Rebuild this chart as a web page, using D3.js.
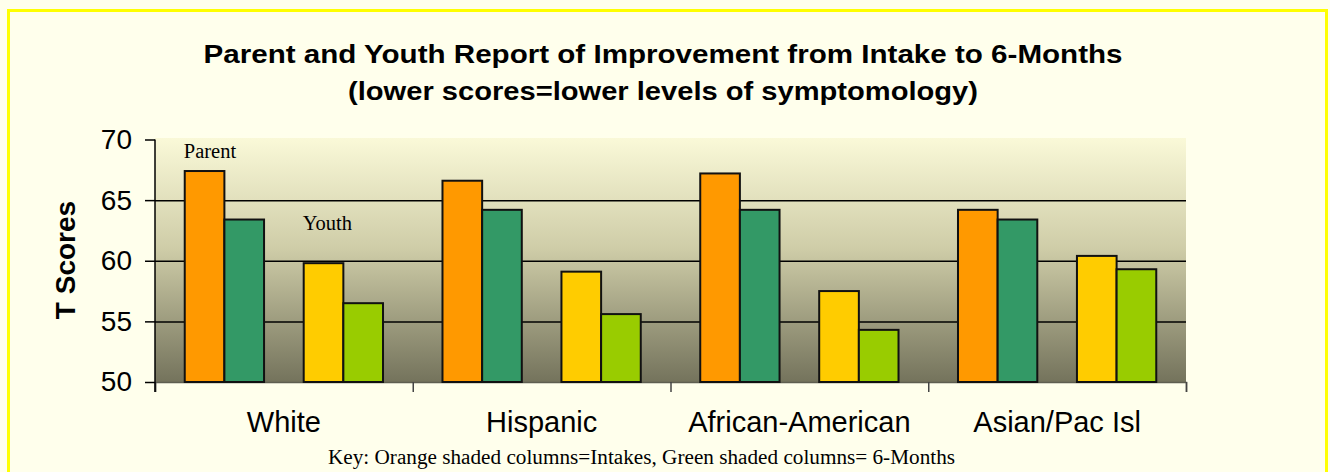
<!DOCTYPE html>
<html>
<head>
<meta charset="utf-8">
<script src="https://cdn.jsdelivr.net/npm/d3@7"></script>
<style>
  body { margin: 0; background: #FFFFEC; }
  svg { display: block; }
</style>
</head>
<body>
<svg width="1330" height="472"></svg>
<script>
// chart values
const categories = ["White", "Hispanic", "African-American", "Asian/Pac Isl"]
const seriesKeys = ["parentIntake", "parent6mo", "gap", "youthIntake", "youth6mo"]
const parentIntake = [67.4, 66.6, 67.2, 64.2]
const parent6mo = [63.4, 64.2, 64.2, 63.4]
const youthIntake = [59.8, 59.1, 57.5, 60.4]
const youth6mo = [56.5, 55.6, 54.3, 59.3]
const yTicks = [50, 55, 60, 65, 70]
const gridTicks = [55, 60, 65]
const titleLines = ["Parent and Youth Report of Improvement from Intake to 6-Months",
                    "(lower scores=lower levels of symptomology)"]
const keyText = "Key: Orange shaded columns=Intakes, Green shaded columns= 6-Months"
// annotation labels: text, category, series slot, value height
const notes = [
    { text: "Parent", cat: "White", key: "parentIntake", v: 68.5 },
    { text: "Youth", cat: "White", key: "youthIntake", v: 62.5 }
]

const colors = {
    parentIntake: "#FF9900",
    parent6mo: "#339966",
    youthIntake: "#FFCC00",
    youth6mo: "#99CC00"
}

const margin = { top: 139.5, left: 155, right: 144, bottom: 90 }
const width = 1330 - margin.left - margin.right
const height = 472 - margin.top - margin.bottom

const svg = d3.select("svg")

// outer frame
svg.append("rect")
    .attr("x", 8.5).attr("y", 10.5)
    .attr("width", 1318).attr("height", 480)
    .attr("fill", "#FFFFEC")
    .attr("stroke", "#FFFF00")
    .attr("stroke-width", 3)

const defs = svg.append("defs")
const grad = defs.append("linearGradient")
    .attr("id", "plotbg")
    .attr("x1", 0).attr("y1", 0).attr("x2", 0).attr("y2", 1)
grad.append("stop").attr("offset", "0%").attr("stop-color", "#FAF9D8")
grad.append("stop").attr("offset", "45%").attr("stop-color", "#CFCDA8")
grad.append("stop").attr("offset", "100%").attr("stop-color", "#74735C")

const g = svg.append("g")
    .attr("transform", "translate(" + margin.left + "," + margin.top + ")")

let y = d3.scaleLinear().domain([50, 70]).range([height, 0])
let x0 = d3.scaleBand().domain(categories).range([0, width]).padding(0)
let x1 = d3.scaleBand().domain(seriesKeys).range([0, x0.bandwidth()])
    .paddingInner(0).paddingOuter(0.75)
let xEdges = d3.scaleLinear().domain([0, categories.length]).range([0, width])

g.append("rect")
    .attr("x", 0).attr("y", -1.5)
    .attr("width", width).attr("height", height + 1.5)
    .attr("fill", "url(#plotbg)")

// grid lines
g.append("g")
    .attr("class", "grid")
    .call(d3.axisLeft(y).tickValues(gridTicks).tickSize(-width).tickFormat(""))
    .call(s => s.select(".domain").remove())
    .call(s => s.selectAll("line").attr("stroke", "#000").attr("stroke-width", 1.5))

// x axis line and category boundary ticks
g.append("g")
    .attr("transform", "translate(0," + height + ")")
    .call(d3.axisBottom(xEdges).ticks(categories.length).tickSize(10).tickFormat(""))
    .call(s => s.select(".domain").attr("stroke", "#5E5E50").attr("stroke-width", 1.5))
    .call(s => s.selectAll("line").attr("stroke", "#444").attr("stroke-width", 1.5))

// bars
const rows = categories.map((c, i) => ({
    cat: c,
    vals: [
        { key: "parentIntake", v: parentIntake[i] },
        { key: "parent6mo", v: parent6mo[i] },
        { key: "youthIntake", v: youthIntake[i] },
        { key: "youth6mo", v: youth6mo[i] }
    ]
}))

g.append("g").selectAll("g")
    .data(rows)
    .enter().append("g")
    .attr("transform", d => "translate(" + x0(d.cat) + ",0)")
    .selectAll("rect")
    .data(d => d.vals)
    .enter().append("rect")
    .attr("x", d => x1(d.key))
    .attr("y", d => y(d.v))
    .attr("width", x1.bandwidth())
    .attr("height", d => y(50) - y(d.v))
    .attr("fill", d => colors[d.key])
    .attr("stroke", "#111")
    .attr("stroke-width", 2)

// y axis
g.append("g")
    .call(d3.axisLeft(y).tickValues(yTicks).tickSize(10).tickPadding(13))
    .call(s => s.select(".domain").attr("stroke", "#000").attr("stroke-width", 1.5)
        .attr("d", "M0," + (y(70)) + "V" + (height + 10)))
    .call(s => s.selectAll("line").attr("stroke", "#000").attr("stroke-width", 1.5))
    .call(s => s.selectAll("text")
        .attr("font-family", "Liberation Sans, Arial, sans-serif")
        .attr("font-size", 28).attr("fill", "#000"))

// category labels
g.append("g").selectAll("text")
    .data(categories)
    .enter().append("text")
    .attr("x", d => x0(d) + x0.bandwidth() / 2)
    .attr("y", height + 50)
    .attr("text-anchor", "middle")
    .attr("font-family", "Liberation Sans, Arial, sans-serif")
    .attr("font-size", 29)
    .text(d => d)

// Parent / Youth notes
g.append("g").selectAll("text")
    .data(notes)
    .enter().append("text")
    .attr("x", d => x0(d.cat) + x1(d.key) - 1)
    .attr("y", d => y(d.v))
    .attr("font-family", "Liberation Serif, Times New Roman, serif")
    .attr("font-size", 20.5)
    .text(d => d.text)

// y axis title
svg.append("text")
    .attr("transform", "translate(75,260) rotate(-90)")
    .attr("text-anchor", "middle")
    .attr("font-family", "Liberation Sans, Arial, sans-serif")
    .attr("font-weight", "bold")
    .attr("font-size", 28)
    .text("T Scores")

// title
svg.append("g").selectAll("text")
    .data(titleLines)
    .enter().append("text")
    .attr("x", 663)
    .attr("y", (d, i) => 63 + i * 37)
    .attr("text-anchor", "middle")
    .attr("font-family", "Liberation Sans, Arial, sans-serif")
    .attr("font-weight", "bold")
    .attr("font-size", 25)
    .attr("textLength", (d, i) => i == 0 ? 919 : 630)
    .attr("lengthAdjust", "spacingAndGlyphs")
    .text(d => d)

// key line
svg.append("text")
    .attr("x", 328)
    .attr("y", 464)
    .attr("font-family", "Liberation Serif, Times New Roman, serif")
    .attr("font-size", 20.5)
    .attr("textLength", 627)
    .attr("lengthAdjust", "spacingAndGlyphs")
    .text(keyText)
</script>
</body>
</html>
